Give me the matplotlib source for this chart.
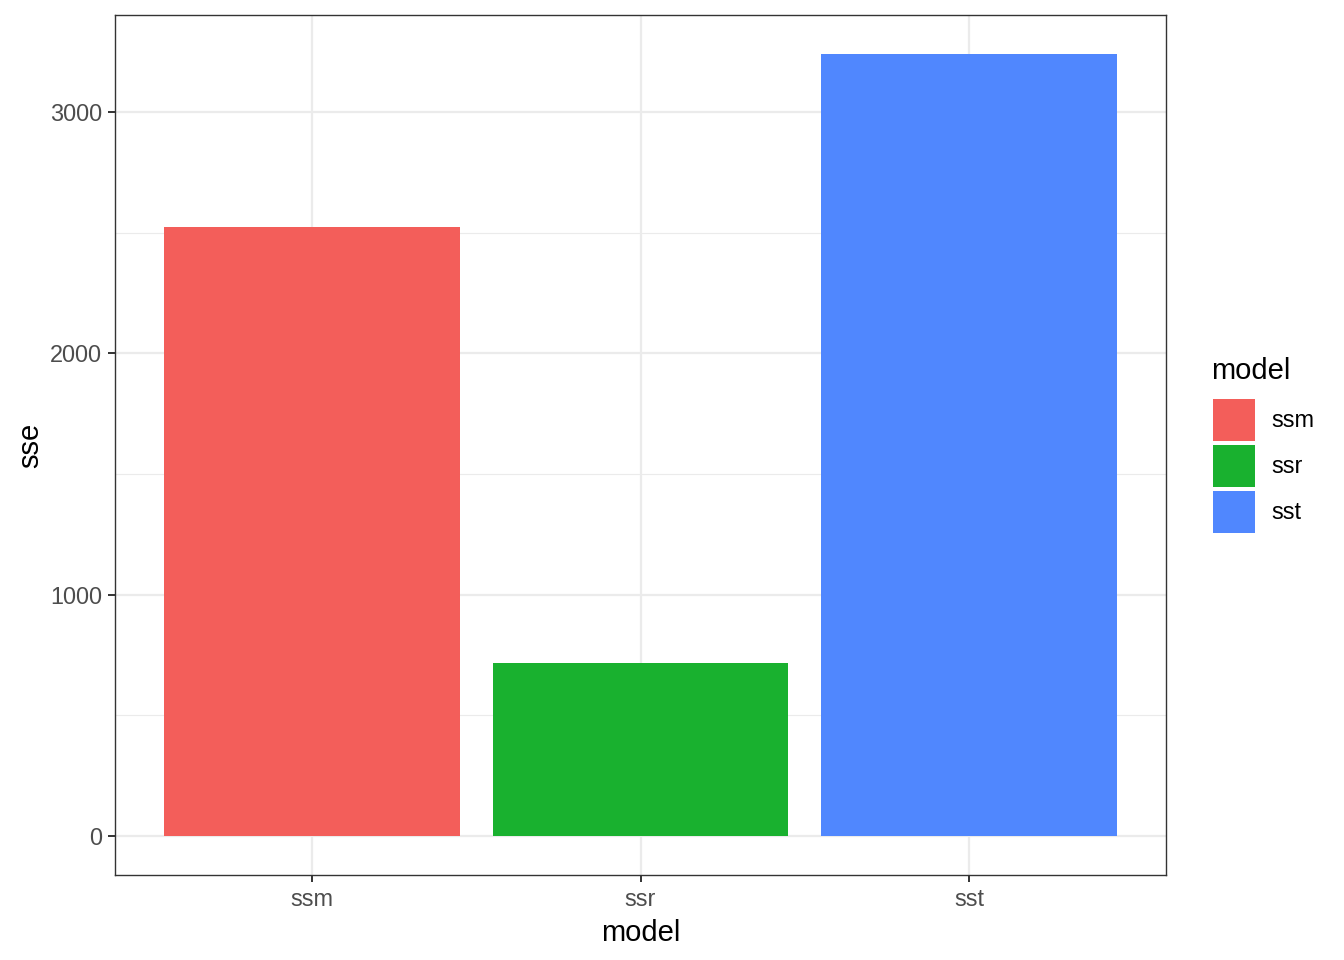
import matplotlib
matplotlib.use('Agg')
import matplotlib.pyplot as plt
from matplotlib.patches import Patch

plt.rcParams['font.family'] = ['Liberation Sans', 'DejaVu Sans']

models = ['ssm', 'ssr', 'sst']
sse = [2524, 716, 3240]
colors = ['#F35E5A', '#19B12F', '#5087FE']

W, H = 1344, 960
fig = plt.figure(figsize=(W / 100, H / 100), dpi=100)
ax = fig.add_axes([115 / W, (H - 875) / H, (1166 - 115) / W, (875 - 15) / H])

x = list(range(1, len(models) + 1))
ax.bar(x, sse, width=0.9, color=colors, zorder=3)

ax.set_xlim(0.4, 3.6)
top = max(sse)
ax.set_ylim(-0.05 * top, top * 1.05)

ax.set_xticks(x)
ax.set_xticklabels(models)
ax.set_yticks([0, 1000, 2000, 3000])
ax.set_yticks([500, 1500, 2500], minor=True)

ax.grid(which='major', color='#EBEBEB', linewidth=1.6, zorder=0)
ax.grid(which='minor', axis='y', color='#EBEBEB', linewidth=0.8, zorder=0)
ax.set_axisbelow(True)

for s in ax.spines.values():
    s.set_color('#333333')
    s.set_linewidth(1.0)

ax.tick_params(which='major', length=5.3, width=1.4, color='#333333',
               labelcolor='#4D4D4D', labelsize=16.9, pad=4)
ax.tick_params(which='minor', length=0)

ax.set_xlabel('model', fontsize=21, color='black', labelpad=6)
ax.set_ylabel('sse', fontsize=21, color='black', labelpad=4)

# legend: title drawn separately to get ggplot-like spacing
fig.text(1211 / W, 1 - 371 / H, 'model', fontsize=21, ha='left', va='center')
handles = [Patch(facecolor=c, edgecolor='none') for c in colors]
leg = fig.legend(handles, models, loc='upper left',
                 bbox_to_anchor=(1213 / W, 1 - 399 / H), frameon=False,
                 fontsize=16.9, handlelength=1.79, handleheight=2.37,
                 labelspacing=0.17, handletextpad=0.68, borderpad=0,
                 borderaxespad=0)

fig.savefig('out.png', dpi=100)
